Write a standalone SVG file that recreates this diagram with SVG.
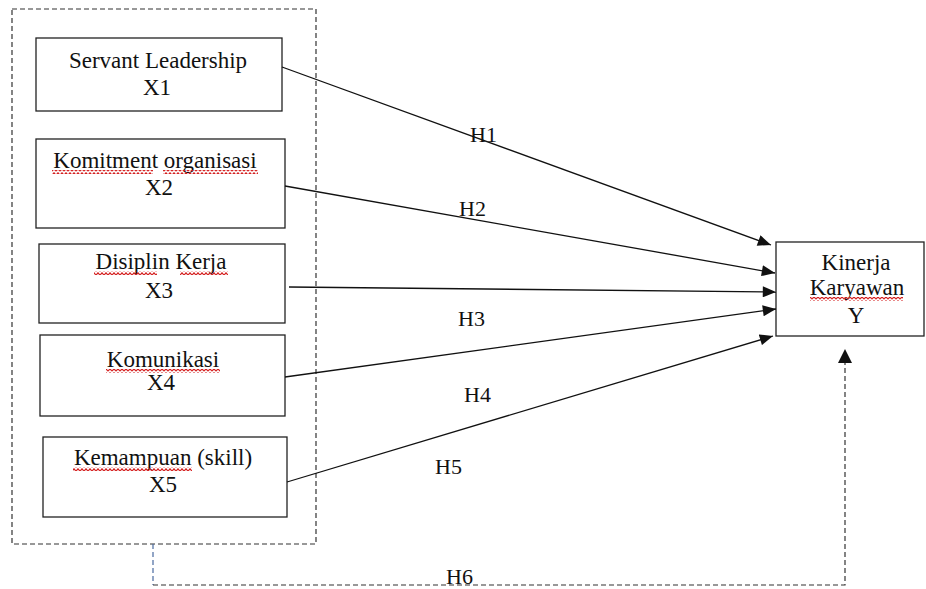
<svg xmlns="http://www.w3.org/2000/svg" width="926" height="589" viewBox="0 0 926 589">
<style>
.box{fill:#fff;stroke:#222;stroke-width:1.3}
.lbl{font-family:"Liberation Serif","Times New Roman",serif;font-size:23px;fill:#111;text-anchor:middle}
.hl{font-family:"Liberation Serif","Times New Roman",serif;font-size:22px;fill:#111}
.arr{stroke:#111;stroke-width:1.3;fill:none;marker-end:url(#ah)}
.dash{stroke:#333;stroke-width:1.2;fill:none;stroke-dasharray:5 3}
.sq{fill:url(#wave)}
</style>
<defs>
<marker id="ah" viewBox="0 0 12 10" refX="12" refY="5" markerWidth="14" markerHeight="11" markerUnits="userSpaceOnUse" orient="auto">
<path d="M0,0 L12,5 L0,10 z" fill="#111"/>
</marker>
<pattern id="wave" width="4" height="4" patternUnits="userSpaceOnUse">
<path d="M0,3.2 L2,0.8 L4,3.2" fill="none" stroke="#d42020" stroke-width="1.2"/>
</pattern>
</defs>
<rect x="12" y="9" width="304" height="535" class="dash"/>
<g id="x1">
<rect x="36" y="38" width="246" height="73" class="box"/>
<text x="158" y="68" class="lbl">Servant Leadership</text>
<text x="157" y="95" class="lbl">X1</text>
</g>
<g id="x2">
<rect x="36" y="139" width="249" height="89" class="box"/>
<text x="155" y="168" class="lbl">Komitment organisasi</text>
<text x="159" y="195" class="lbl">X2</text>
<rect x="52" y="170" width="101" height="4" class="sq"/>
<rect x="163" y="170" width="95" height="4" class="sq"/>
</g>
<g id="x3">
<rect x="39" y="244" width="246" height="79" class="box"/>
<text x="161" y="269" class="lbl">Disiplin Kerja</text>
<text x="159" y="298" class="lbl">X3</text>
<rect x="94" y="271" width="63" height="4" class="sq"/>
<rect x="180" y="271" width="48" height="4" class="sq"/>
</g>
<g id="x4">
<rect x="40" y="335" width="245" height="81" class="box"/>
<text x="163" y="367" class="lbl">Komunikasi</text>
<text x="161" y="390" class="lbl">X4</text>
<rect x="106" y="369" width="114" height="4" class="sq"/>
</g>
<g id="x5">
<rect x="43" y="437" width="244" height="80" class="box"/>
<text x="163" y="465" class="lbl">Kemampuan (skill)</text>
<text x="163" y="492" class="lbl">X5</text>
<rect x="73" y="467" width="119" height="4" class="sq"/>
</g>
<g id="y">
<rect x="776" y="242" width="148" height="94" class="box"/>
<text x="856" y="270" class="lbl">Kinerja</text>
<text x="857" y="295" class="lbl">Karyawan</text>
<text x="856" y="323" class="lbl">Y</text>
<rect x="810" y="297" width="93" height="4" class="sq"/>
</g>
<g id="connectors">
<line x1="282" y1="67" x2="771" y2="245" class="arr"/>
<line x1="285" y1="186" x2="775" y2="273" class="arr"/>
<line x1="289" y1="287" x2="776" y2="292" class="arr"/>
<line x1="285" y1="377" x2="776" y2="309" class="arr"/>
<line x1="287" y1="482" x2="773" y2="336" class="arr"/>
<path d="M153,544 V585" fill="none" stroke="#4a6aa0" stroke-width="1.2" stroke-dasharray="5 3"/>
<path d="M153,585 H845 V362" class="dash"/>
<path d="M838,363 L845,349 L852,363 z" fill="#111"/>
</g>
<g id="labels">
<text x="470" y="142" class="hl">H1</text>
<text x="459" y="216" class="hl">H2</text>
<text x="458" y="326" class="hl">H3</text>
<text x="464" y="402" class="hl">H4</text>
<text x="435" y="474" class="hl">H5</text>
<text x="446" y="584" class="hl">H6</text>
</g>
</svg>
